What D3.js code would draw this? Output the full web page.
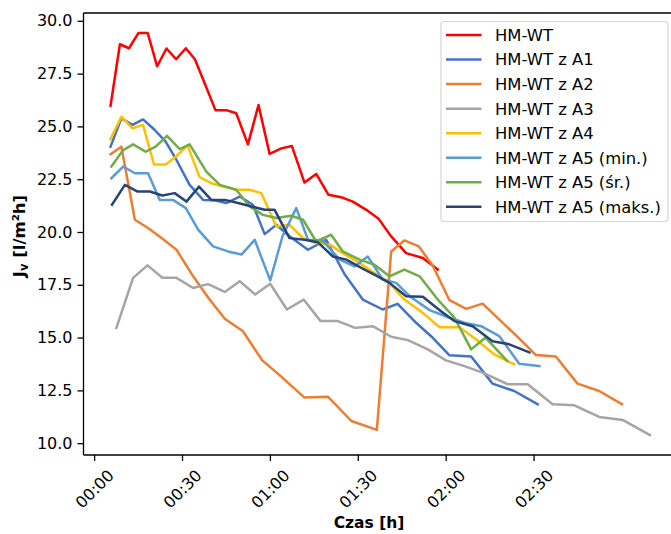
<!DOCTYPE html>
<html>
<head>
<meta charset="utf-8">
<script src="https://cdn.jsdelivr.net/npm/d3@7"></script>
<style>
  body { margin: 0; background: #fff; }
  text { font-family: "DejaVu Sans", sans-serif; }
</style>
</head>
<body>
<svg id="chart" width="671" height="534"></svg>
<script>
// Permeate flux Jv [l/m2h] over filtration time (minutes since start)
const seriesNames = ["HM-WT", "HM-WT z A1", "HM-WT z A2", "HM-WT z A3",
  "HM-WT z A4", "HM-WT z A5 (min.)", "HM-WT z A5 (śr.)", "HM-WT z A5 (maks.)"];
const seriesColors = ["#ff0000", "#4472c4", "#ed7d31", "#a5a5a5",
  "#ffc000", "#5b9bd5", "#70ad47", "#264478"];

const timeHM = [5.6, 8.8, 11.9, 15.1, 18.3, 21.5, 24.7, 28.0, 31.3, 34.4, 38.0, 41.4, 45.1, 48.5, 52.5, 56.1, 59.9, 63.9, 67.5, 71.8, 75.8, 80.0, 84.3, 88.3, 92.9, 97.2, 101.4, 106.5, 112.2, 117.3];
const fluxHM = [25.98, 28.89, 28.70, 29.42, 29.42, 27.85, 28.69, 28.18, 28.70, 28.18, 26.95, 25.77, 25.77, 25.62, 24.15, 26.01, 23.70, 23.96, 24.07, 22.34, 22.75, 21.76, 21.65, 21.44, 21.05, 20.61, 19.79, 19.0, 18.77, 18.22];

const timeA1 = [5.6, 9.3, 13.1, 16.7, 20.7, 24.4, 28.1, 32.6, 37.2, 41.2, 45.1, 49.7, 54.2, 58.2, 62.2, 66.7, 73.0, 79.2, 85.5, 91.7, 98.5, 103.6, 109.9, 115.6, 121.3, 128.7, 136.0, 143.4, 151.4];
const fluxA1 = [24.04, 25.38, 25.07, 25.33, 24.83, 24.28, 23.41, 22.23, 21.52, 21.5, 21.37, 21.68, 21.29, 19.90, 20.34, 19.8, 19.16, 19.63, 18.0, 16.8, 16.33, 16.6, 15.7, 14.99, 14.16, 14.10, 12.82, 12.47, 11.84];

const timeA2 = [5.6, 9.3, 13.9, 18.4, 23.0, 28.1, 33.8, 38.9, 44.6, 50.8, 57.4, 63.3, 71.8, 79.8, 87.8, 96.5, 101.4, 105.9, 110.8, 115.6, 121.3, 127.0, 132.6, 138.7, 144.8, 150.8, 157.6, 165.0, 172.4, 180.2];
const fluxA2 = [23.68, 24.04, 20.58, 20.19, 19.71, 19.16, 17.9, 16.9, 15.89, 15.30, 13.92, 13.22, 12.16, 12.20, 11.05, 10.63, 19.08, 19.6, 19.32, 18.4, 16.77, 16.36, 16.61, 15.8, 15.0, 14.17, 14.10, 12.82, 12.47, 11.84];

const timeA3 = [7.6, 13.3, 18.2, 23.3, 28.1, 33.8, 38.9, 44.6, 49.7, 55.0, 60.1, 65.8, 71.5, 77.3, 83.2, 89.1, 95.1, 101.4, 107.1, 113.9, 120.1, 126.4, 132.6, 141.2, 148.0, 156.5, 163.9, 172.4, 180.4, 189.7];
const fluxA3 = [15.46, 17.83, 18.42, 17.83, 17.83, 17.35, 17.53, 17.16, 17.67, 17.04, 17.55, 16.33, 16.8, 15.78, 15.78, 15.46, 15.54, 15.04, 14.88, 14.44, 13.92, 13.65, 13.34, 12.79, 12.79, 11.84, 11.79, 11.24, 11.10, 10.39];

const timeA4 = [5.6, 9.3, 13.1, 16.7, 20.4, 24.4, 28.2, 31.9, 36.0, 40.0, 44.0, 48.5, 53.1, 57.1, 62.2, 66.7, 71.3, 75.8, 80.4, 84.9, 90.6, 95.7, 100.8, 105.9, 112.2, 117.9, 124.7, 130.4, 136.6, 143.4];
const fluxA4 = [24.40, 25.46, 24.91, 25.07, 23.2, 23.2, 23.6, 24.1, 22.6, 22.31, 22.15, 22.0, 22.0, 21.84, 20.26, 20.34, 19.71, 19.48, 19.40, 19.0, 18.53, 18.06, 17.59, 16.8, 16.17, 15.49, 15.49, 14.91, 14.2, 13.73];

const timeA5min = [5.9, 9.9, 13.9, 18.4, 22.4, 26.9, 31.3, 35.5, 40.6, 45.7, 50.3, 54.8, 60.1, 64.3, 69.0, 73.0, 78.0, 83.8, 88.9, 93.4, 98.5, 103.1, 107.7, 114.5, 121.3, 126.4, 132.1, 138.3, 145.1, 152.0];
const fluxA5min = [22.55, 23.1, 22.78, 22.78, 21.52, 21.52, 21.13, 20.11, 19.32, 19.08, 18.93, 19.63, 17.71, 19.8, 21.13, 19.63, 19.6, 18.69, 18.37, 18.84, 17.75, 17.59, 16.96, 16.3, 15.94, 15.7, 15.54, 15.07, 13.76, 13.65];

const timeA5avg = [5.9, 9.9, 13.3, 17.6, 21.0, 24.9, 29.2, 32.6, 38.3, 42.9, 48.5, 53.1, 57.6, 62.2, 67.3, 71.3, 75.8, 80.9, 84.9, 90.6, 95.7, 100.8, 105.9, 111.1, 117.3, 123.0, 128.7, 133.6, 141.0];
const fluxA5avg = [23.1, 23.88, 24.15, 23.80, 24.04, 24.55, 23.92, 24.15, 22.86, 22.23, 22.0, 21.21, 20.81, 20.66, 20.77, 20.58, 19.55, 19.87, 19.08, 18.69, 18.45, 17.90, 18.22, 17.90, 16.8, 15.94, 14.44, 15.0, 13.89];

const timeA5max = [6.1, 10.5, 14.7, 19.0, 23.3, 27.5, 31.5, 35.8, 40.0, 44.6, 49.1, 53.7, 58.2, 61.6, 66.7, 71.8, 76.4, 81.5, 86.1, 91.2, 96.3, 100.8, 106.5, 112.2, 118.4, 123.0, 129.2, 136.0, 141.7, 148.6];
const fluxA5max = [21.29, 22.23, 21.92, 21.92, 21.73, 21.84, 21.44, 22.15, 21.52, 21.52, 21.37, 21.21, 21.05, 21.05, 19.71, 19.63, 19.51, 18.84, 18.69, 18.3, 17.93, 17.59, 16.96, 16.93, 16.25, 15.78, 15.54, 14.83, 14.68, 14.3];

const xTickMinutes = [0, 30, 60, 90, 120, 150];
const xTickLabels = ["00:00", "00:30", "01:00", "01:30", "02:00", "02:30"];
const yTicks = [10.0, 12.5, 15.0, 17.5, 20.0, 22.5, 25.0, 27.5, 30.0];

const seriesTimes = [timeHM, timeA1, timeA2, timeA3, timeA4, timeA5min, timeA5avg, timeA5max];
const seriesFlux = [fluxHM, fluxA1, fluxA2, fluxA3, fluxA4, fluxA5min, fluxA5avg, fluxA5max];

const svg = d3.select("#chart");
const plot = { left: 83.5, right: 678, top: 13, bottom: 455 };

const x = d3.scaleLinear().domain([-3.63, 199.3]).range([plot.left, plot.right]);
const y = d3.scaleLinear().domain([9.44, 30.37]).range([plot.bottom, plot.top]);

const series = seriesNames.map((name, i) => ({
  name, color: seriesColors[i],
  points: seriesTimes[i].map((t, j) => [t, seriesFlux[i][j]])
}));

const line = d3.line().x(d => x(d[0])).y(d => y(d[1]));

svg.append("defs").append("clipPath").attr("id", "plotClip")
  .append("rect").attr("x", plot.left).attr("y", plot.top)
  .attr("width", plot.right - plot.left).attr("height", plot.bottom - plot.top);

// data lines
svg.append("g").attr("clip-path", "url(#plotClip)")
  .selectAll("path").data(series).join("path")
  .attr("d", d => line(d.points))
  .attr("fill", "none")
  .attr("stroke", d => d.color)
  .attr("stroke-width", 2.5)
  .attr("stroke-linejoin", "round")
  .attr("stroke-linecap", "square");

// axes
const xAxis = d3.axisBottom(x).tickValues(xTickMinutes)
  .tickFormat((d, i) => xTickLabels[i]).tickSize(6).tickPadding(4);
const gx = svg.append("g").attr("transform", `translate(0,${plot.bottom})`).call(xAxis);
gx.select(".domain").remove();
gx.selectAll(".tick line").attr("stroke", "#000").attr("stroke-width", 1.3);
gx.selectAll(".tick text")
  .attr("font-size", 16).attr("fill", "#000")
  .attr("text-anchor", "middle").attr("dy", "0.35em")
  .attr("y", 34)
  .attr("transform", "rotate(-45 0 34)");

const yAxis = d3.axisLeft(y).tickValues(yTicks).tickFormat(d3.format(".1f"))
  .tickSize(6).tickPadding(5);
const gy = svg.append("g").attr("transform", `translate(${plot.left},0)`).call(yAxis);
gy.select(".domain").remove();
gy.selectAll(".tick line").attr("stroke", "#000").attr("stroke-width", 1.3);
gy.selectAll(".tick text").attr("font-size", 16).attr("fill", "#000");

// frame
const frame = svg.append("g").attr("stroke", "#000").attr("stroke-width", 1.3).attr("fill", "none");
frame.append("line").attr("x1", plot.left).attr("x2", plot.left).attr("y1", plot.top).attr("y2", plot.bottom);
frame.append("line").attr("x1", plot.left).attr("x2", plot.right).attr("y1", plot.bottom).attr("y2", plot.bottom);
frame.append("line").attr("x1", plot.left).attr("x2", plot.right).attr("y1", plot.top).attr("y2", plot.top);
frame.append("line").attr("x1", plot.right).attr("x2", plot.right).attr("y1", plot.top).attr("y2", plot.bottom);

// axis titles
svg.append("text")
  .attr("x", 369).attr("y", 528)
  .attr("text-anchor", "middle").attr("font-size", 15.5).attr("font-weight", "bold")
  .text("Czas [h]");

const yl = svg.append("text")
  .attr("transform", `translate(25,${(plot.top + plot.bottom) / 2 + 2}) rotate(-90)`)
  .attr("text-anchor", "middle").attr("font-size", 16.5).attr("font-weight", "bold");
yl.append("tspan").text("J");
yl.append("tspan").attr("font-size", 11.5).attr("dy", 3).text("v");
yl.append("tspan").attr("dy", -3).text(" [l/m²h]");

// legend
const lg = svg.append("g");
lg.append("rect").attr("x", 441).attr("y", 21.5).attr("width", 227).attr("height", 200)
  .attr("rx", 3).attr("fill", "#fff").attr("fill-opacity", 0.8)
  .attr("stroke", "#d6d6d6").attr("stroke-width", 1.2);
const rows = lg.selectAll("g.row").data(series).join("g")
  .attr("transform", (d, i) => `translate(0,${35 + i * 24.55})`);
rows.append("line").attr("x1", 446).attr("x2", 481.5).attr("y1", 0).attr("y2", 0)
  .attr("stroke", d => d.color).attr("stroke-width", 2.5);
rows.append("text").attr("x", 495).attr("y", 0).attr("dy", "0.36em")
  .attr("font-size", 16.4).attr("fill", "#000").text(d => d.name);
</script>
</body>
</html>
